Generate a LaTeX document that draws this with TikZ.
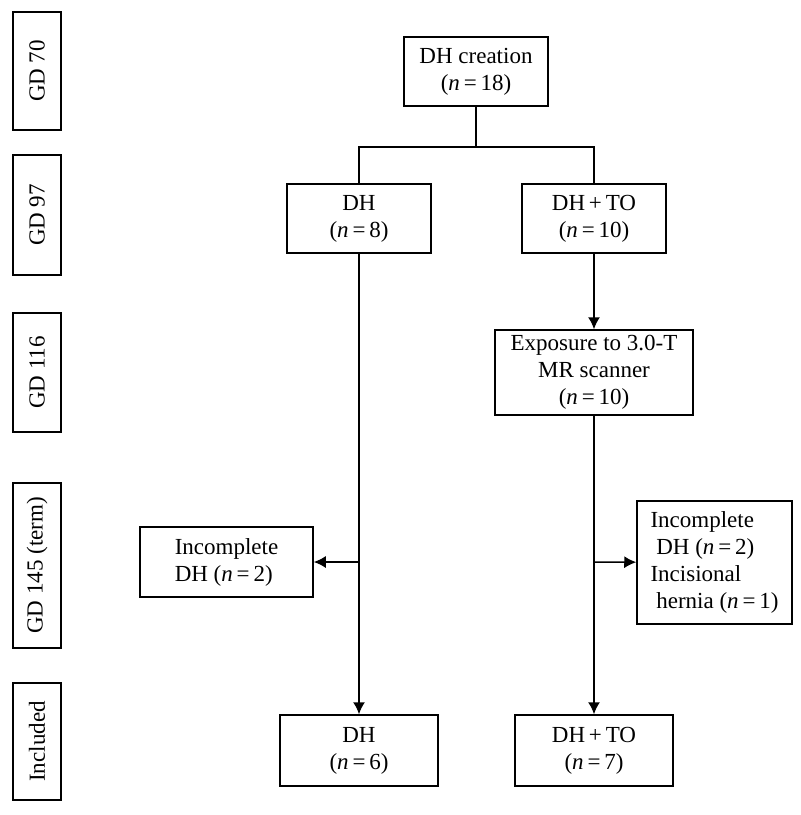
\documentclass[tikz,border=0pt]{standalone}
\usepackage{fontspec}
\setmainfont{Liberation Serif}
\usetikzlibrary{arrows.meta,positioning}

\newcommand{\nn}[1]{(\textit{n}\,=\,#1)}

\begin{document}
\begin{tikzpicture}[
		x=0.5pt,y=-0.5pt,
		line width=0.75pt,
		box/.style={
			draw,
			align=center,
			inner sep=2pt,
			font=\fontsize{11.5}{13.5}\selectfont
		},
		stage/.style={
			box,
			rotate=90,
			minimum height=24pt
		},
		>={Latex[length=6pt,width=6pt]}
		]
		\useasboundingbox (0,0) rectangle (800,815);
		% time points
		\foreach \lbl/\yc/\blen [count=\i] in {GD 70/71/59,GD 97/215/60,GD 116/372.5/59.5,GD 145 (term)/565.5/82.5,Included/741.5/58.5}
			\node[stage, minimum width=\blen pt] (stage\i) at (37,\yc) {\lbl};
		% flow
		\node[box, minimum width=72pt, minimum height=34.5pt] (creation) at (476,71.5) {DH creation\\\nn{18}};
		\node[box, minimum width=72pt, minimum height=34.5pt] (dh8) at (359,218.5) {DH\\\nn{8}};
		\node[box, minimum width=72pt, minimum height=34.5pt] (dhto10) at (594,218.5) {DH\,+\,TO\\\nn{10}};
		\node[box, minimum width=99pt, minimum height=42.5pt] (expo) at (594,372.5) {Exposure to 3.0-T\\MR scanner\\\nn{10}};
		\node[box, align=left, minimum width=86.5pt, minimum height=35pt] (incl) at (226.5,562) {Incomplete\\DH \nn{2}};
		\node[box, align=left, minimum width=77.5pt, minimum height=61.5pt] (incr) at (714.5,562.5) {Incomplete\\\ DH \nn{2}\\Incisional\\\ hernia \nn{1}};
		\node[box, minimum width=79pt, minimum height=35.5pt] (dh6) at (359,750.5) {DH\\\nn{6}};
		\node[box, minimum width=79pt, minimum height=35.5pt] (dhto7) at (594,750.5) {DH\,+\,TO\\\nn{7}};
		\coordinate (split) at (476,147);
		\coordinate (bl) at (359,562);
		\coordinate (br) at (594,562);
		\draw (creation) -- (split);
		\draw (dh8.north) |- (split) -| (dhto10.north);
		\draw[->] (dh8) -- (dh6);
		\draw[->] (bl) -- (incl);
		\draw[->] (dhto10) -- (expo);
		\draw[->] (expo) -- (dhto7);
		\draw[->] (br) -- (incr);
\end{tikzpicture}
\end{document}
